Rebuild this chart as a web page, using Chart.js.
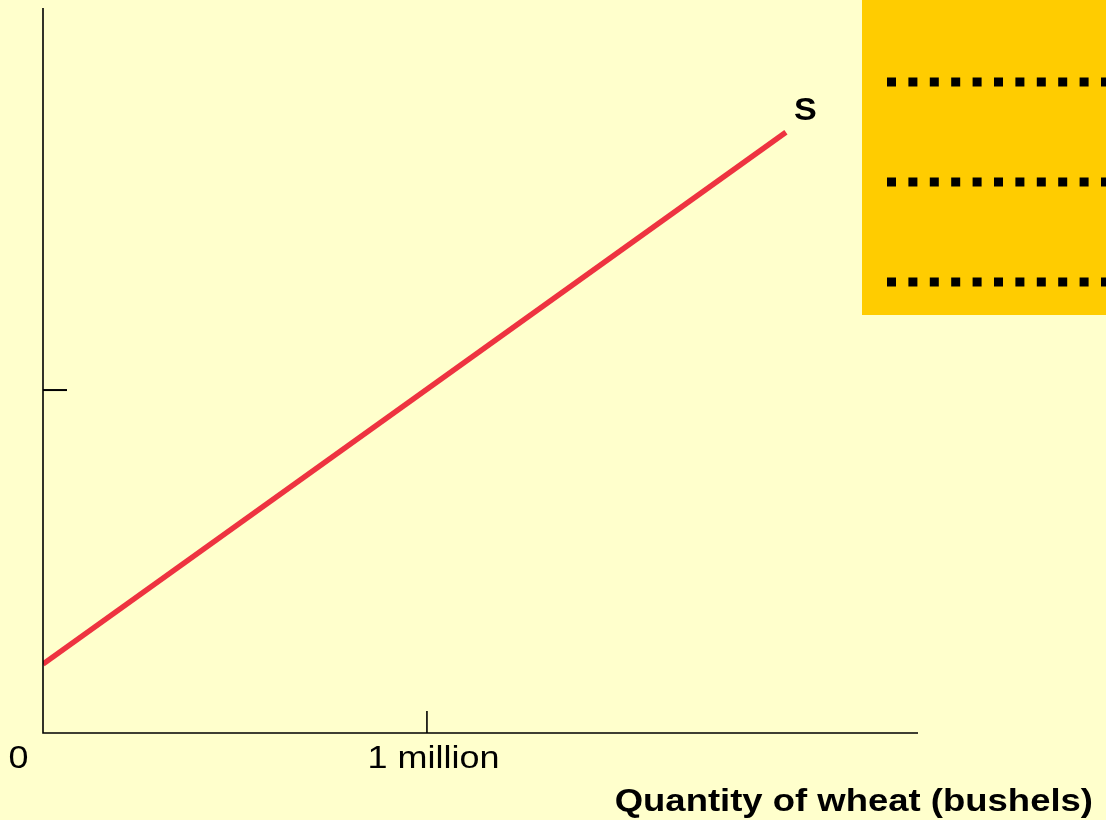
<!DOCTYPE html>
<html>
<head>
<meta charset="utf-8">
<script src="https://cdn.jsdelivr.net/npm/chart.js@4/dist/chart.umd.min.js"></script>
<style>
  html, body { margin: 0; padding: 0; background: #FFFFCC; }
  #wrap { width: 1106px; height: 820px; position: relative; }
</style>
</head>
<body>
<div id="wrap"><canvas id="c"></canvas></div>
<script>
// Supply curve S (quantity in millions of bushels, price in arbitrary units)
const quantities = [0, 1.935];
const prices = [0.201, 1.752];
const seriesName = 'S';
const xTickValues = [0, 1];
const xTickLabels = ['0', '1 million'];
const yTickValues = [1];
const xAxisTitle = 'Quantity of wheat (bushels)';
const xMax = 2.279;
const yMax = 2.114;

function stretchedText(ctx, text, x, y, sx, align) {
  ctx.save();
  ctx.translate(x, y);
  ctx.scale(sx, 1);
  ctx.textAlign = align;
  ctx.fillText(text, 0, 0);
  ctx.restore();
}

const decor = {
  id: 'decor',
  beforeDraw(chart) {
    const ctx = chart.ctx;
    ctx.save();
    ctx.fillStyle = '#FFFFCC';
    ctx.fillRect(0, 0, chart.width, chart.height);
    // orange box (top-right panel)
    ctx.fillStyle = '#FFCC00';
    ctx.fillRect(862, 0, chart.width - 862, 315);
    ctx.strokeStyle = '#000';
    ctx.lineWidth = 9;
    ctx.setLineDash([9, 12.4]);
    [82, 182, 282].forEach(y => {
      ctx.beginPath();
      ctx.moveTo(887, y);
      ctx.lineTo(chart.width + 10, y);
      ctx.stroke();
    });
    ctx.restore();
  },
  afterDraw(chart) {
    const ctx = chart.ctx;
    const xs = chart.scales.x, ys = chart.scales.y;
    const x0 = xs.getPixelForValue(0), y0 = ys.getPixelForValue(0);
    ctx.save();
    ctx.strokeStyle = '#000';
    ctx.lineWidth = 1.6;
    ctx.beginPath();
    ctx.moveTo(x0, ys.getPixelForValue(yMax));
    ctx.lineTo(x0, y0);
    ctx.lineTo(xs.getPixelForValue(xMax), y0);
    ctx.stroke();
    ctx.lineWidth = 2;
    yTickValues.forEach(v => {
      const y = ys.getPixelForValue(v);
      ctx.beginPath(); ctx.moveTo(x0, y); ctx.lineTo(x0 + 24, y); ctx.stroke();
    });
    ctx.lineWidth = 1.6;
    xTickValues.forEach(v => {
      if (v === 0) return;
      const x = xs.getPixelForValue(v);
      ctx.beginPath(); ctx.moveTo(x, y0); ctx.lineTo(x, y0 - 22); ctx.stroke();
    });
    ctx.fillStyle = '#000';
    ctx.textBaseline = 'alphabetic';
    ctx.font = '31px "Liberation Sans", Arial, sans-serif';
    xTickValues.forEach((v, i) => {
      const x = xs.getPixelForValue(v);
      const dx = v === 0 ? -24.5 : 6.5;
      stretchedText(ctx, xTickLabels[i], x + dx, y0 + 34.5, 1.16, 'center');
    });
    ctx.font = 'bold 32px "Liberation Sans", Arial, sans-serif';
    stretchedText(ctx, xAxisTitle, 1093, 811, 1.14, 'right');
    // series label at end of the curve
    const n = quantities.length - 1;
    const lx = xs.getPixelForValue(quantities[n]);
    const ly = ys.getPixelForValue(prices[n]);
    ctx.font = 'bold 31px "Liberation Sans", Arial, sans-serif';
    stretchedText(ctx, seriesName, lx + 8, ly - 12, 1.1, 'left');
    ctx.restore();
  }
};

new Chart(document.getElementById('c'), {
  type: 'line',
  data: {
    datasets: [{
      label: seriesName,
      data: quantities.map((q, i) => ({ x: q, y: prices[i] })),
      borderColor: '#EE3340',
      borderWidth: 5.5,
      borderCapStyle: 'butt',
      pointRadius: 0,
      fill: false,
      tension: 0
    }]
  },
  options: {
    responsive: true,
    maintainAspectRatio: false,
    animation: false,
    layout: { padding: { left: 43, top: 8, right: 188, bottom: 87 } },
    plugins: { legend: { display: false }, tooltip: { enabled: false } },
    scales: {
      x: { type: 'linear', min: 0, max: xMax, display: false },
      y: { type: 'linear', min: 0, max: yMax, display: false }
    }
  },
  plugins: [decor]
});
</script>
</body>
</html>
